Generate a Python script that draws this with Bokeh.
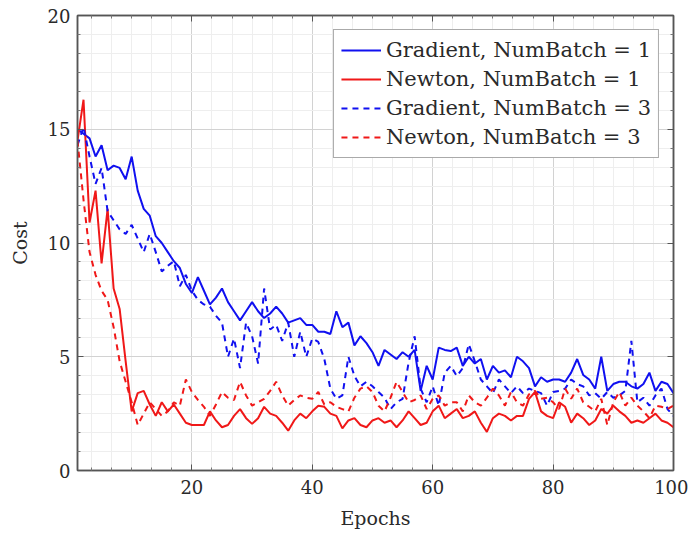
from bokeh.plotting import figure
from bokeh.models import Range1d, FixedTicker, LinearAxis, Legend, LegendItem
from bokeh.embed import file_html
from bokeh.resources import INLINE

epochs = list(range(1, 101))

grad_nb1 = [15.0, 14.8, 14.6, 13.8, 14.3, 13.2, 13.4, 13.3, 12.8, 13.8,
            12.3, 11.5, 11.2, 10.3, 10.0, 9.6, 9.2, 8.9, 8.2, 7.8,
            8.5, 7.9, 7.3, 7.6, 8.0, 7.4, 7.0, 6.6, 7.0, 7.4,
            7.0, 6.7, 6.9, 7.2, 6.9, 6.5, 6.6, 6.7, 6.4, 6.4,
            6.1, 6.1, 6.0, 7.0, 6.3, 6.5, 5.5, 5.9, 5.6, 5.2,
            4.6, 5.3, 5.1, 4.9, 5.2, 5.0, 5.3, 3.5, 4.6, 4.0,
            5.4, 5.3, 5.25, 5.4, 4.6, 5.0, 4.7, 4.9, 4.0, 4.6,
            4.3, 4.4, 4.1, 5.0, 4.8, 4.5, 3.7, 4.1, 3.9, 4.0,
            4.0, 3.9, 4.3, 4.9, 4.2, 4.0, 3.6, 5.0, 3.5, 3.8,
            3.9, 3.9, 3.7, 3.6, 3.8, 4.3, 3.5, 3.9, 3.8, 3.4]

newton_nb1 = [14.5, 16.3, 10.9, 12.3, 9.1, 11.5, 8.0, 7.1, 4.8, 2.6,
              3.4, 3.5, 2.9, 2.4, 3.0, 2.6, 2.9, 2.5, 2.1, 2.0,
              2.0, 2.0, 2.6, 2.2, 1.9, 2.0, 2.4, 2.7, 2.3, 2.05,
              2.3, 2.8, 2.5, 2.4, 2.1, 1.75, 2.2, 2.5, 2.3, 2.6,
              2.85, 2.8, 2.5, 2.4, 1.85, 2.2, 2.3, 2.0, 1.9, 2.2,
              2.3, 2.1, 2.2, 1.9, 2.2, 2.6, 2.3, 2.0, 2.1, 2.6,
              2.85, 2.3, 2.5, 2.7, 2.3, 2.4, 2.6, 2.1, 1.7, 2.3,
              2.5, 2.4, 2.2, 2.4, 2.4, 3.15, 3.45, 2.6, 2.4, 2.3,
              3.0, 2.8, 2.1, 2.5, 2.3, 2.0, 2.2, 2.7, 2.5, 2.85,
              2.6, 2.4, 2.1, 2.2, 2.1, 2.3, 2.5, 2.2, 2.1, 1.9]

grad_nb3 = [14.3, 15.1, 13.8, 12.6, 13.3, 11.4, 11.0, 10.6, 10.4, 10.8,
            10.2, 9.6, 10.4, 9.6, 8.75, 9.0, 9.2, 8.1, 8.6, 7.9,
            7.5, 7.3, 7.2, 6.8, 6.5, 5.0, 5.8, 4.5, 6.5, 5.9,
            4.7, 8.0, 6.2, 6.4, 5.7, 6.5, 5.0, 6.1, 5.0, 5.8,
            5.65, 4.9, 3.6, 3.15, 3.3, 5.0, 4.15, 3.7, 3.9, 3.7,
            3.45, 3.2, 2.7, 3.0, 3.15, 4.75, 5.9, 3.6, 3.0, 3.7,
            2.85, 4.3, 4.6, 4.15, 4.5, 5.55, 4.8, 4.0, 3.7, 3.4,
            4.0, 3.7, 3.4, 3.7, 3.4, 3.6, 3.5, 3.4, 2.85, 3.45,
            3.5, 3.6, 4.0, 3.8, 3.7, 3.3, 3.4, 3.15, 3.45, 3.2,
            3.3, 3.5, 5.7, 3.0, 3.2, 2.85, 3.3, 3.6, 2.7, 2.4]

newton_nb3 = [14.5, 11.9, 9.6, 8.6, 7.9, 7.5, 6.3, 4.8, 3.9, 3.0,
              2.0, 2.5, 3.0, 2.7, 2.4, 2.6, 3.0, 2.85, 4.0, 3.45,
              3.1, 2.8, 2.4, 2.9, 3.45, 3.2, 3.1, 3.9, 3.3, 2.85,
              3.0, 3.15, 3.5, 3.9, 3.3, 2.85, 3.1, 3.3, 3.2, 3.15,
              3.45, 2.9, 3.0, 2.8, 2.7, 2.6, 3.2, 3.6, 3.7, 3.45,
              2.85, 2.6, 3.2, 3.9, 3.45, 3.0, 3.1, 3.3, 2.7, 3.15,
              3.3, 2.85, 3.0, 3.0, 2.6, 3.3, 3.0, 2.85, 3.2, 3.6,
              3.3, 2.85, 3.45, 3.0, 2.85, 3.35, 3.5, 3.15, 3.2, 3.0,
              2.7, 3.6, 3.15, 3.6, 3.0, 2.8, 2.6, 3.15, 2.0, 3.0,
              3.45, 2.85, 3.2, 2.85, 2.6, 2.3, 2.85, 2.8, 2.7, 2.85]

x_ticks = [20, 40, 60, 80, 100]
x_minor = [round(20 * k / 6, 3) for k in range(1, 31) if k % 6 != 0]
y_ticks = [0, 5, 10, 15, 20]
y_minor = [round(5 * k / 6, 3) for k in range(1, 24) if k % 6 != 0]

labels = ["Gradient, NumBatch = 1", "Newton, NumBatch = 1",
          "Gradient, NumBatch = 3", "Newton, NumBatch = 3"]

FONT = "DejaVu Serif"
TXT = "#2a2a2a"

p = figure(width=688, height=531, output_backend="svg", toolbar_location=None,
           x_range=Range1d(1, 100), y_range=Range1d(0, 20),
           min_border_left=77, min_border_right=15, min_border_top=15,
           min_border_bottom=59)
p.background_fill_color = "white"
p.border_fill_color = "white"
p.outline_line_color = "#555555"
p.outline_line_width = 1.5

xt = FixedTicker(ticks=x_ticks, minor_ticks=x_minor)
yt = FixedTicker(ticks=y_ticks, minor_ticks=y_minor)
p.xaxis.ticker = xt
p.yaxis.ticker = yt
p.xgrid.ticker = xt
p.ygrid.ticker = yt

for g in (p.xgrid, p.ygrid):
    g.grid_line_color = "#d2d2d2"
    g.grid_line_width = 1
    g.minor_grid_line_color = "#eeeeee"
    g.minor_grid_line_width = 1

for ax in (p.xaxis[0], p.yaxis[0]):
    ax.axis_line_color = "#555555"
    ax.axis_line_width = 1.5
    ax.major_tick_in = 6
    ax.major_tick_out = 0
    ax.minor_tick_in = 3
    ax.minor_tick_out = 0
    ax.major_tick_line_color = "#555555"
    ax.minor_tick_line_color = "#777777"
    ax.major_label_text_font = FONT
    ax.major_label_text_font_size = "18px"
    ax.major_label_text_color = TXT
    ax.axis_label_text_font = FONT
    ax.axis_label_text_font_size = "19px"
    ax.axis_label_text_font_style = "normal"
    ax.axis_label_text_color = TXT

p.xaxis.axis_label = "Epochs"
p.yaxis.axis_label = "Cost"
p.xaxis.major_label_standoff = 9
p.yaxis.major_label_standoff = 7
p.xaxis.axis_label_standoff = 10
p.yaxis.axis_label_standoff = 14

for loc, tk in (("above", xt), ("right", yt)):
    a = LinearAxis(ticker=tk)
    a.axis_line_color = "#555555"
    a.axis_line_width = 1.5
    a.major_tick_in = 6
    a.major_tick_out = 0
    a.minor_tick_in = 3
    a.minor_tick_out = 0
    a.major_tick_line_color = "#555555"
    a.minor_tick_line_color = "#777777"
    a.major_label_text_font_size = "1px"
    a.major_label_text_color = None
    a.major_label_standoff = 0
    p.add_layout(a, loc)

BLUE = "#1010f0"
RED = "#f01818"
r1 = p.line(epochs, grad_nb1, line_color=BLUE, line_width=2)
r2 = p.line(epochs, newton_nb1, line_color=RED, line_width=2)
r3 = p.line(epochs, grad_nb3, line_color=BLUE, line_width=2, line_dash="6 5")
r4 = p.line(epochs, newton_nb3, line_color=RED, line_width=2, line_dash="6 5")

legend = Legend(items=[LegendItem(label=labels[0], renderers=[r1]),
                       LegendItem(label=labels[1], renderers=[r2]),
                       LegendItem(label=labels[2], renderers=[r3]),
                       LegendItem(label=labels[3], renderers=[r4])],
                location="top_right")
legend.margin = 14
legend.padding = 7
legend.spacing = 3
legend.label_height = 26
legend.glyph_height = 26
legend.glyph_width = 40
legend.label_standoff = 5
legend.label_text_font = FONT
legend.label_text_font_size = "21px"
legend.label_text_color = TXT
legend.border_line_color = "#555555"
legend.border_line_width = 1.5
legend.background_fill_color = "white"
legend.background_fill_alpha = 1.0
p.add_layout(legend)

open("out.html", "w").write(file_html(p, INLINE))
